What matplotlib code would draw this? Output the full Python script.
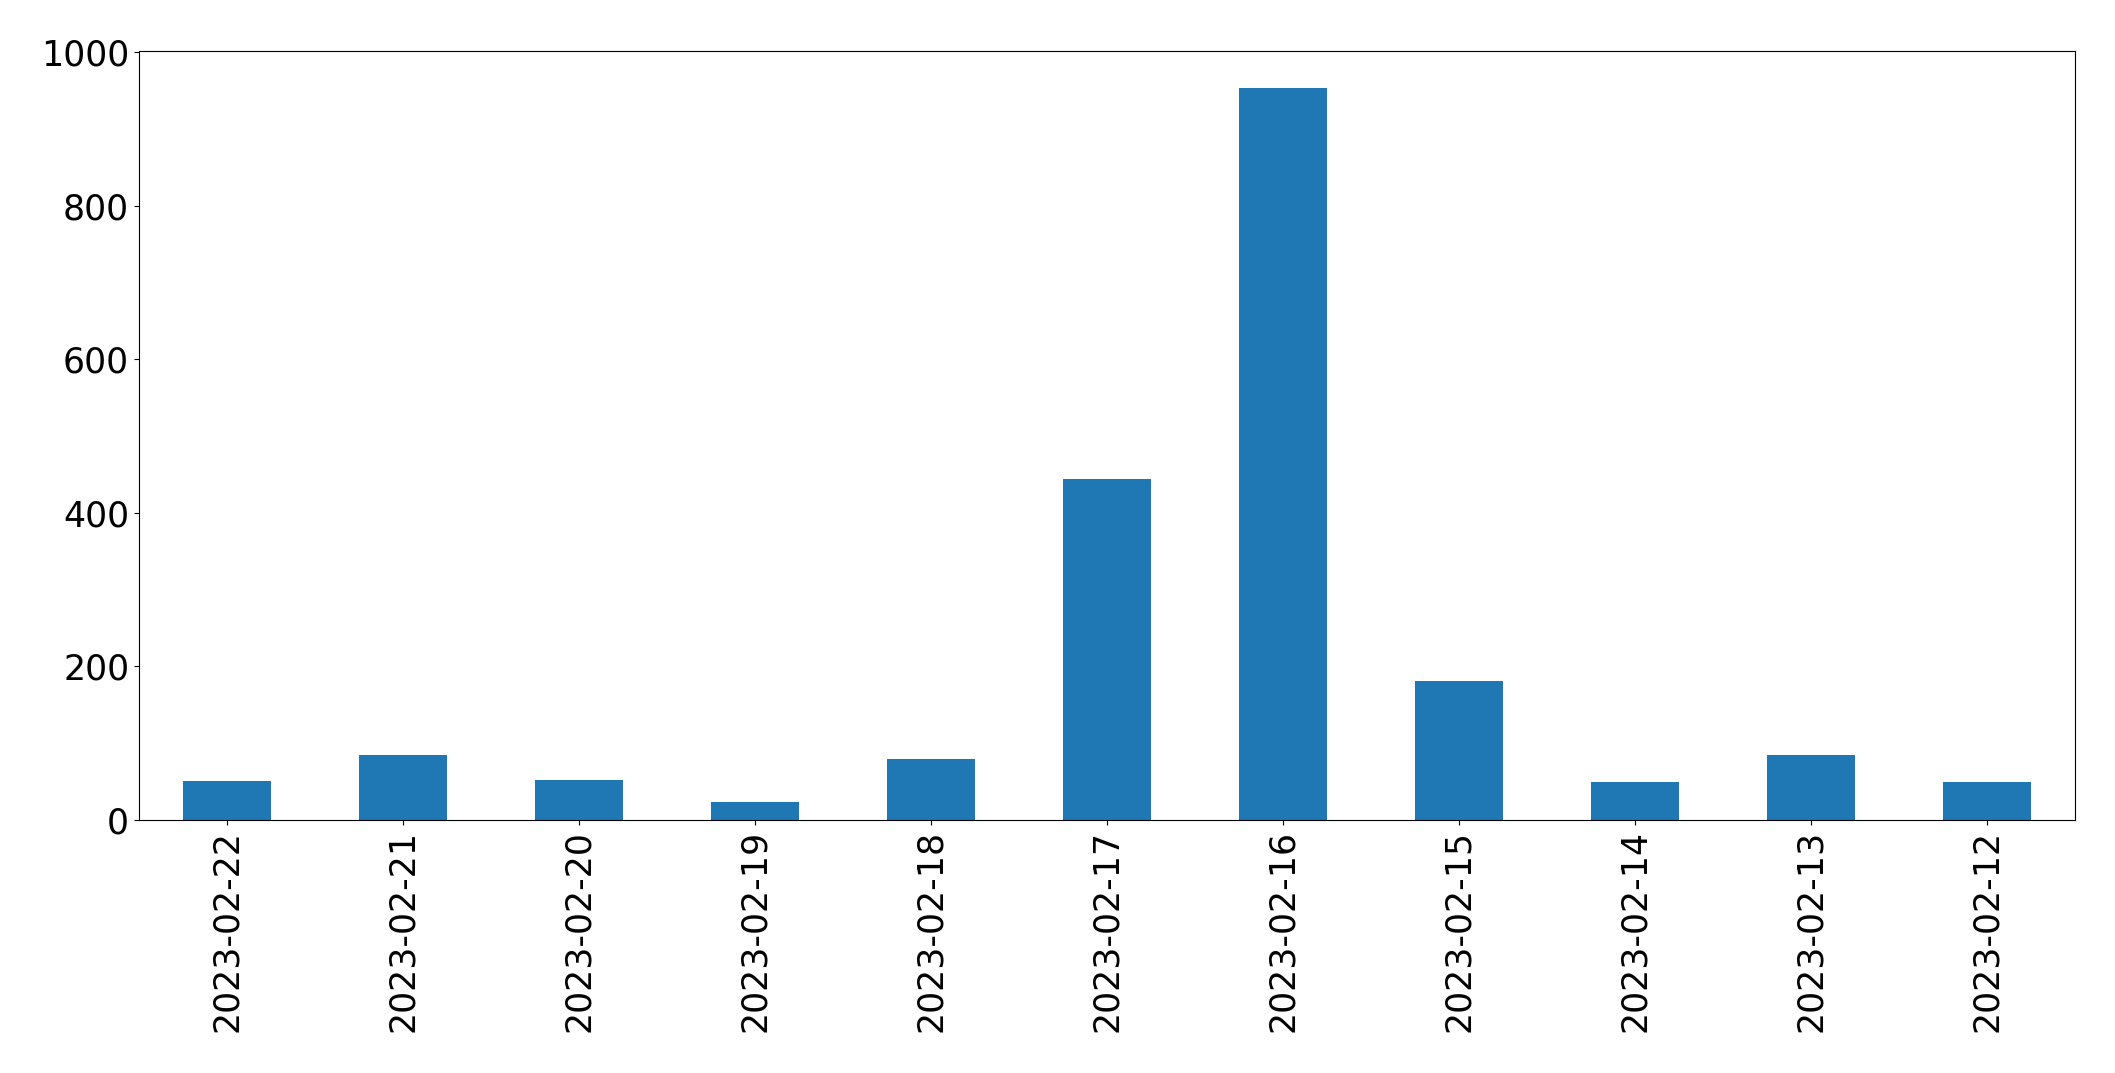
import matplotlib
matplotlib.use("Agg")
import matplotlib.pyplot as plt
import numpy as np

# daily counts, newest first (as in the reference)
dates = ["2023-02-22", "2023-02-21", "2023-02-20", "2023-02-19", "2023-02-18",
         "2023-02-17", "2023-02-16", "2023-02-15", "2023-02-14", "2023-02-13",
         "2023-02-12"]
counts = [51, 84, 52, 24, 79, 444, 954, 181, 50, 84, 50]

fig = plt.figure(figsize=(21.15, 10.73), dpi=100)
ax = fig.add_axes([0.0657, 0.2358, 0.9153, 0.7167])

x = np.arange(len(dates))
ax.bar(x, counts, width=0.5, color="#1f77b4")
ax.set_xlim(-0.5, len(dates) - 0.5)
ax.set_xticks(x)
ax.set_xticklabels(dates, rotation=90)
ax.tick_params(axis="both", labelsize=25)

plt.savefig("out.png")
